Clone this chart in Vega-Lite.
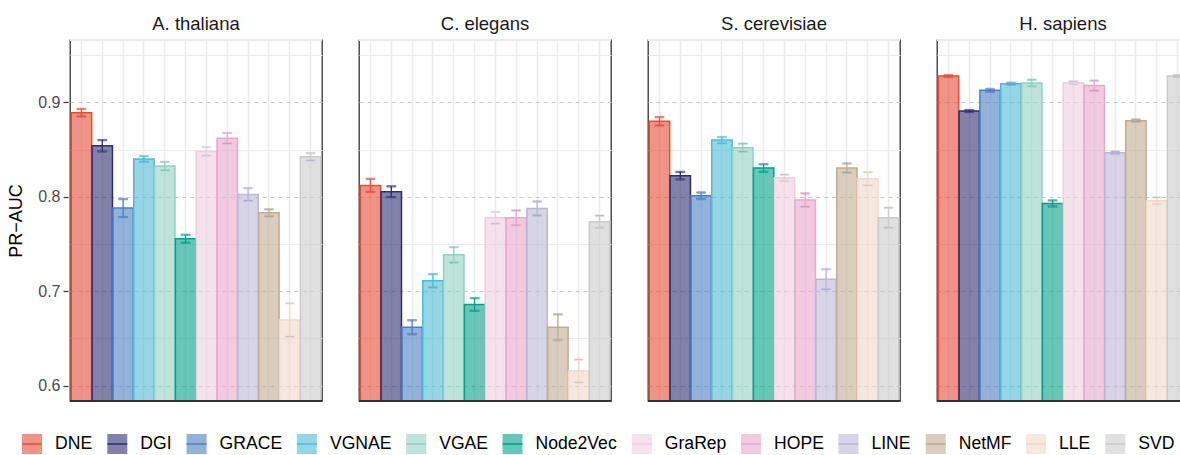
{
  "$schema": "https://vega.github.io/schema/vega-lite/v6.json",
  "padding": {"left": 7, "top": 14, "right": 0, "bottom": 0},
  "background": "white",
  "data": {
    "values": [
      {"dataset": "A. thaliana", "method": "DNE", "value": 0.889, "err": 0.004},
      {"dataset": "A. thaliana", "method": "DGI", "value": 0.854, "err": 0.006},
      {"dataset": "A. thaliana", "method": "GRACE", "value": 0.788, "err": 0.0095},
      {"dataset": "A. thaliana", "method": "VGNAE", "value": 0.840, "err": 0.003},
      {"dataset": "A. thaliana", "method": "VGAE", "value": 0.8325, "err": 0.0044},
      {"dataset": "A. thaliana", "method": "Node2Vec", "value": 0.7555, "err": 0.0042},
      {"dataset": "A. thaliana", "method": "GraRep", "value": 0.848, "err": 0.0046},
      {"dataset": "A. thaliana", "method": "HOPE", "value": 0.862, "err": 0.0055},
      {"dataset": "A. thaliana", "method": "LINE", "value": 0.8025, "err": 0.0067},
      {"dataset": "A. thaliana", "method": "NetMF", "value": 0.783, "err": 0.0037},
      {"dataset": "A. thaliana", "method": "LLE", "value": 0.6696, "err": 0.0177},
      {"dataset": "A. thaliana", "method": "SVD", "value": 0.8424, "err": 0.0039},
      {"dataset": "C. elegans", "method": "DNE", "value": 0.812, "err": 0.0069},
      {"dataset": "C. elegans", "method": "DGI", "value": 0.8053, "err": 0.0057},
      {"dataset": "C. elegans", "method": "GRACE", "value": 0.6618, "err": 0.0074},
      {"dataset": "C. elegans", "method": "VGNAE", "value": 0.711, "err": 0.007},
      {"dataset": "C. elegans", "method": "VGAE", "value": 0.7385, "err": 0.0081},
      {"dataset": "C. elegans", "method": "Node2Vec", "value": 0.6859, "err": 0.0067},
      {"dataset": "C. elegans", "method": "GraRep", "value": 0.7777, "err": 0.0062},
      {"dataset": "C. elegans", "method": "HOPE", "value": 0.7777, "err": 0.0078},
      {"dataset": "C. elegans", "method": "LINE", "value": 0.7876, "err": 0.0074},
      {"dataset": "C. elegans", "method": "NetMF", "value": 0.6618, "err": 0.0136},
      {"dataset": "C. elegans", "method": "LLE", "value": 0.6155, "err": 0.012},
      {"dataset": "C. elegans", "method": "SVD", "value": 0.7735, "err": 0.0065},
      {"dataset": "S. cerevisiae", "method": "DNE", "value": 0.8799, "err": 0.0044},
      {"dataset": "S. cerevisiae", "method": "DGI", "value": 0.8223, "err": 0.004},
      {"dataset": "S. cerevisiae", "method": "GRACE", "value": 0.801, "err": 0.0035},
      {"dataset": "S. cerevisiae", "method": "VGNAE", "value": 0.860, "err": 0.0032},
      {"dataset": "S. cerevisiae", "method": "VGAE", "value": 0.852, "err": 0.0042},
      {"dataset": "S. cerevisiae", "method": "Node2Vec", "value": 0.8304, "err": 0.004},
      {"dataset": "S. cerevisiae", "method": "GraRep", "value": 0.820, "err": 0.0034},
      {"dataset": "S. cerevisiae", "method": "HOPE", "value": 0.7965, "err": 0.007},
      {"dataset": "S. cerevisiae", "method": "LINE", "value": 0.7127, "err": 0.0106},
      {"dataset": "S. cerevisiae", "method": "NetMF", "value": 0.8304, "err": 0.0048},
      {"dataset": "S. cerevisiae", "method": "LLE", "value": 0.8191, "err": 0.0069},
      {"dataset": "S. cerevisiae", "method": "SVD", "value": 0.7777, "err": 0.0106},
      {"dataset": "H. sapiens", "method": "DNE", "value": 0.9279, "err": 0.001},
      {"dataset": "H. sapiens", "method": "DGI", "value": 0.8908, "err": 0.001},
      {"dataset": "H. sapiens", "method": "GRACE", "value": 0.9127, "err": 0.0015},
      {"dataset": "H. sapiens", "method": "VGNAE", "value": 0.9198, "err": 0.001},
      {"dataset": "H. sapiens", "method": "VGAE", "value": 0.9205, "err": 0.0034},
      {"dataset": "H. sapiens", "method": "Node2Vec", "value": 0.7929, "err": 0.0032},
      {"dataset": "H. sapiens", "method": "GraRep", "value": 0.9208, "err": 0.0015},
      {"dataset": "H. sapiens", "method": "HOPE", "value": 0.9177, "err": 0.0053},
      {"dataset": "H. sapiens", "method": "LINE", "value": 0.8466, "err": 0.0012},
      {"dataset": "H. sapiens", "method": "NetMF", "value": 0.8806, "err": 0.0012},
      {"dataset": "H. sapiens", "method": "LLE", "value": 0.7958, "err": 0.0035},
      {"dataset": "H. sapiens", "method": "SVD", "value": 0.9279, "err": 0.001}
    ]
  },
  "facet": {
    "column": {
      "field": "dataset",
      "type": "nominal",
      "sort": ["A. thaliana", "C. elegans", "S. cerevisiae", "H. sapiens"],
      "header": {
        "title": null,
        "labelFontSize": 18.5,
        "labelColor": "#1A1A1A",
        "labelPadding": 5
      }
    }
  },
  "spacing": 33,
  "spec": {
    "width": 252,
    "height": 361,
    "layer": [
      {
        "mark": {"type": "bar", "fillOpacity": 0.6, "strokeWidth": 1.5, "clip": true},
        "encoding": {
          "x": {
            "field": "method",
            "type": "nominal",
            "sort": ["DNE", "DGI", "GRACE", "VGNAE", "VGAE", "Node2Vec", "GraRep", "HOPE", "LINE", "NetMF", "LLE", "SVD"],
            "scale": {"paddingInner": 0.02, "paddingOuter": 0.06},
            "axis": {
              "title": null,
              "labels": false,
              "ticks": false,
              "domain": false,
              "grid": true,
              "gridColor": "#EBEBEB",
              "gridWidth": 1.5,
              "bandPosition": 0.5
            }
          },
          "y": {
            "field": "value",
            "type": "quantitative",
            "title": "PR−AUC",
            "scale": {"domain": [0.5837, 0.966], "nice": false, "zero": false},
            "axis": {
              "values": [0.6, 0.65, 0.7, 0.75, 0.8, 0.85, 0.9, 0.95],
              "labelExpr": "abs(datum.value * 10 - round(datum.value * 10)) < 0.01 ? format(datum.value, '.1f') : ''",
              "gridDash": {"condition": {"test": "abs(datum.value * 10 - round(datum.value * 10)) < 0.01", "value": [4, 4]}, "value": []},
              "gridColor": {"condition": {"test": "abs(datum.value * 10 - round(datum.value * 10)) < 0.01", "value": "#C8C8C8"}, "value": "#EBEBEB"},
              "gridWidth": 1.2,
              "tickOpacity": {"condition": {"test": "abs(datum.value * 10 - round(datum.value * 10)) < 0.01", "value": 1}, "value": 0},
              "domain": false,
              "tickColor": "#333333",
              "tickSize": 5,
              "tickWidth": 1.2,
              "labelFontSize": 16,
              "labelColor": "#4D4D4D",
              "labelPadding": 3,
              "titleFontSize": 18,
              "titleFontWeight": "normal",
              "titleColor": "#000000",
              "titlePadding": 12
            }
          },
          "y2": {"datum": 0.55},
          "fill": {
            "field": "method",
            "type": "nominal",
            "sort": ["DNE", "DGI", "GRACE", "VGNAE", "VGAE", "Node2Vec", "GraRep", "HOPE", "LINE", "NetMF", "LLE", "SVD"],
            "scale": {
              "domain": ["DNE", "DGI", "GRACE", "VGNAE", "VGAE", "Node2Vec", "GraRep", "HOPE", "LINE", "NetMF", "LLE", "SVD"],
              "range": ["#E64B35", "#2D2D70", "#4A7FC3", "#4DBBD5", "#91D1C2", "#00A087", "#EECDDF", "#E9A7CA", "#BBB7D5", "#C1AC93", "#F2D9CA", "#CBCBCD"]
            },
            "legend": {
              "orient": "none",
              "legendX": -49,
              "legendY": 393,
              "direction": "horizontal",
              "title": null,
              "columns": 12,
              "symbolType": "M-1,0H1V-1H-1V1H1V0Z",
              "symbolSize": 400,
              "symbolStrokeWidth": 1.5,
              "symbolDash": [20, 1000],
              "labelFontSize": 17.6,
              "labelColor": "#000000",
              "labelOffset": 12,
              "columnPadding": 11.3,
              "encode": {"symbols": {"update": {"fillOpacity": {"value": 0.6}}}}
            }
          },
          "stroke": {
            "field": "method",
            "type": "nominal",
            "sort": ["DNE", "DGI", "GRACE", "VGNAE", "VGAE", "Node2Vec", "GraRep", "HOPE", "LINE", "NetMF", "LLE", "SVD"],
            "scale": {
              "domain": ["DNE", "DGI", "GRACE", "VGNAE", "VGAE", "Node2Vec", "GraRep", "HOPE", "LINE", "NetMF", "LLE", "SVD"],
              "range": ["#E64B35", "#2D2D70", "#4A7FC3", "#4DBBD5", "#91D1C2", "#00A087", "#EECDDF", "#E9A7CA", "#BBB7D5", "#C1AC93", "#F2D9CA", "#CBCBCD"]
            },
            "legend": {
              "orient": "none",
              "legendX": -49,
              "legendY": 393,
              "direction": "horizontal",
              "title": null,
              "columns": 12,
              "symbolType": "M-1,0H1V-1H-1V1H1V0Z",
              "symbolSize": 400,
              "symbolStrokeWidth": 1.5,
              "symbolDash": [20, 1000],
              "labelFontSize": 17.6,
              "labelColor": "#000000",
              "labelOffset": 12,
              "columnPadding": 11.3,
              "encode": {"symbols": {"update": {"fillOpacity": {"value": 0.6}}}}
            }
          }
        }
      },
      {
        "mark": {"type": "errorbar", "ticks": {"size": 9}, "thickness": 1.3},
        "encoding": {
          "x": {"field": "method", "type": "nominal", "sort": ["DNE", "DGI", "GRACE", "VGNAE", "VGAE", "Node2Vec", "GraRep", "HOPE", "LINE", "NetMF", "LLE", "SVD"]},
          "y": {"field": "value", "type": "quantitative", "title": "PR−AUC"},
          "yError": {"field": "err"},
          "stroke": {"field": "method", "type": "nominal", "sort": ["DNE", "DGI", "GRACE", "VGNAE", "VGAE", "Node2Vec", "GraRep", "HOPE", "LINE", "NetMF", "LLE", "SVD"]}
        }
      },
      {
        "mark": {"type": "rule", "color": "#EBEBEB", "strokeWidth": 2.2},
        "encoding": {"y": {"datum": 0.966}}
      },
      {
        "mark": {"type": "rule", "color": "#333333", "strokeWidth": 1.4},
        "encoding": {"y": {"datum": 0.5837}}
      }
    ]
  },
  "config": {
    "font": "Liberation Sans",
    "view": {"stroke": "#333333", "strokeWidth": 1.3},
    "style": {"cell": {"strokeForeground": false}}
  }
}
